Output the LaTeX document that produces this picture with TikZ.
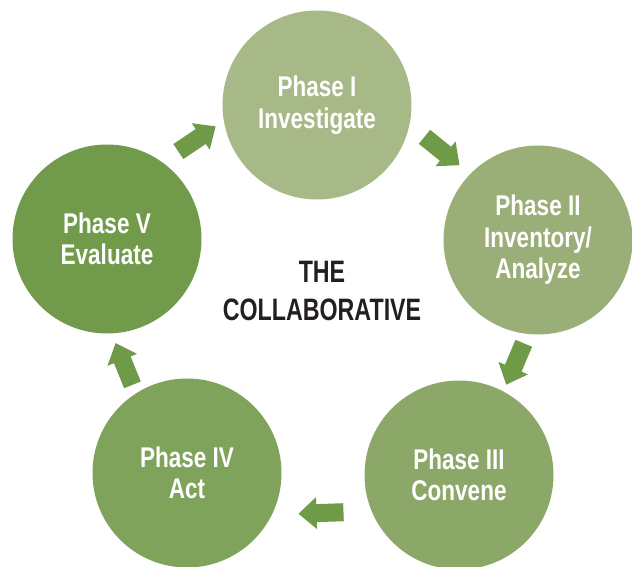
\documentclass[tikz,border=0pt]{standalone}
\usepackage{fontspec}
\setmainfont{Liberation Sans}[FakeStretch=0.79]
\newfontfamily\headfont{Liberation Sans}[FakeStretch=0.75]
\definecolor{pone}{RGB}{167,185,135}
\definecolor{ptwo}{RGB}{154,175,120}
\definecolor{pthree}{RGB}{140,168,105}
\definecolor{pfour}{RGB}{128,163,92}
\definecolor{pfive}{RGB}{113,155,75}
\definecolor{arrowgreen}{RGB}{111,154,72}
\definecolor{headblack}{RGB}{35,31,32}
\tikzset{
  phasebox/.style={circle, minimum size=189pt, inner sep=0pt, text=white,
    align=center, font=\bfseries\fontsize{28.5}{31.5}\selectfont},
  blockarrow/.pic={\fill[arrowgreen] (-22.5,-9) -- (4.5,-9) -- (4.5,-16) -- (22.5,0)
     -- (4.5,16) -- (4.5,9) -- (-22.5,9) -- cycle;}
}
\begin{document}
\begin{tikzpicture}[x=1pt,y=1pt]
\useasboundingbox (0,0) rectangle (632,567);
\node[phasebox, fill=pone]   (I)   at (317,462) {Phase I\\Investigate};
\node[phasebox, fill=ptwo]   (II)  at (538,327) {Phase II\\Inventory/\\Analyze};
\node[phasebox, fill=pthree] (III) at (459,92)  {Phase III\\Convene};
\node[phasebox, fill=pfour]  (IV)  at (187,94)  {Phase IV\\Act};
\node[phasebox, fill=pfive]  (V)   at (107,328) {Phase V\\Evaluate};
\node[align=center, text=headblack, font=\headfont\bfseries\fontsize{31}{38}\selectfont]
  (title) at (322,276) {THE\\COLLABORATIVE};
\pic (a1) [rotate=34]   at (197,428) {blockarrow};
\pic (a2) [rotate=-39]  at (442,416) {blockarrow};
\pic (a3) [rotate=-113] at (515,203) {blockarrow};
\pic (a4) [rotate=182]  at (321,54)  {blockarrow};
\pic (a5) [rotate=112]  at (124,203) {blockarrow};
\end{tikzpicture}
\end{document}
